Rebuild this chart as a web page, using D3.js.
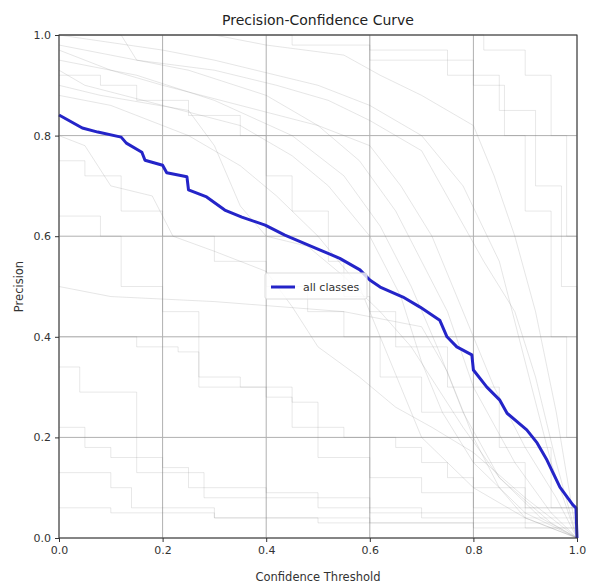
<!DOCTYPE html>
<html>
<head>
<meta charset="utf-8">
<script src="https://cdn.jsdelivr.net/npm/d3@7"></script>
<style>
  body { margin: 0; background: #fff; }
  text { font-family: "DejaVu Sans", sans-serif; }
</style>
</head>
<body>
<div id="chart"></div>
<script>
// Precision-Confidence curve

var xTicks = [0, 0.2, 0.4, 0.6, 0.8, 1.0];
var yTicks = [0, 0.2, 0.4, 0.6, 0.8, 1.0];

// all classes
var allConf = [0, 0.045, 0.075, 0.12, 0.13, 0.16, 0.166, 0.2, 0.208, 0.247, 0.25, 0.285, 0.32, 0.353, 0.398,
  0.436, 0.494, 0.542, 0.581, 0.6, 0.62, 0.664, 0.697, 0.735, 0.749, 0.768, 0.797, 0.8, 0.826, 0.851,
  0.865, 0.903, 0.923, 0.942, 0.954, 0.967, 0.992, 0.998, 1.0];
var allPrec = [0.841, 0.815, 0.807, 0.797, 0.785, 0.767, 0.751, 0.741, 0.726, 0.718, 0.692, 0.678, 0.652, 0.638, 0.622,
  0.602, 0.577, 0.556, 0.533, 0.513, 0.499, 0.479, 0.459, 0.433, 0.4, 0.38, 0.364, 0.334, 0.3, 0.274,
  0.248, 0.215, 0.189, 0.155, 0.129, 0.101, 0.066, 0.06, 0.0];

// per-class curves with stair steps, [confidence, precision]
var stepCurves = [
  [[0,1],[0.35,1],[0.45,0.98],[0.6,0.95],[0.75,0.92],[0.85,0.85],[0.92,0.7],[0.97,0.5],[1,0]],
  [[0,1],[0.5,1],[0.6,0.97],[0.75,0.95],[0.8,0.9],[0.86,0.8],[0.9,0.65],[0.95,0.4],[0.98,0.2],[1,0]],
  [[0,1],[0.7,1],[0.82,0.97],[0.9,0.92],[0.95,0.8],[0.98,0.6],[1,0]],
  [[0,0.34],[0.03,0.34],[0.04,0.29],[0.14,0.29],[0.15,0.13],[0.27,0.13],[0.28,0.08],[0.5,0.08],[0.6,0.05],[0.9,0.02],[1,0]],
  [[0,0.64],[0.08,0.6],[0.12,0.5],[0.2,0.45],[0.27,0.3],[0.4,0.28],[0.45,0.22],[0.5,0.16],[0.6,0.12],[0.7,0.09],[0.8,0.06],[1,0]],
  [[0,0.13],[0.09,0.13],[0.1,0.1],[0.14,0.06],[0.3,0.04],[0.6,0.03],[1,0]],
  [[0,0.4],[0.15,0.38],[0.23,0.37],[0.27,0.32],[0.35,0.3],[0.45,0.27],[0.5,0.22],[0.55,0.2],[0.65,0.18],[0.7,0.15],[0.75,0.12],[0.8,0.1],[0.9,0.05],[1,0]],
  [[0,0.22],[0.05,0.18],[0.1,0.16],[0.2,0.14],[0.25,0.1],[0.4,0.09],[0.5,0.06],[0.7,0.04],[1,0]],
  [[0,0.06],[0.1,0.05],[0.3,0.04],[0.5,0.03],[0.8,0.02],[1,0]],
  [[0,0.75],[0.05,0.72],[0.12,0.65],[0.2,0.6],[0.3,0.55],[0.4,0.5],[0.48,0.45],[0.55,0.4],[0.62,0.32],[0.7,0.25],[0.8,0.15],[0.9,0.06],[1,0]],
  [[0,0.92],[0.08,0.9],[0.15,0.87],[0.25,0.84],[0.35,0.8],[0.4,0.72],[0.45,0.65],[0.52,0.55],[0.55,0.48],[0.6,0.45],[0.65,0.38],[0.75,0.3],[0.85,0.18],[0.95,0.06],[1,0]]
];

// per-class curves that slope down through the middle band
var slopedCurves = [
  [[0,1],[0.2,0.97],[0.3,0.95],[0.5,0.9],[0.6,0.86],[0.7,0.8],[0.78,0.7],[0.85,0.55],[0.9,0.35],[0.95,0.15],[1,0]],
  [[0,0.98],[0.1,0.96],[0.25,0.93],[0.4,0.88],[0.5,0.82],[0.58,0.75],[0.65,0.65],[0.7,0.55],[0.75,0.45],[0.8,0.3],[0.88,0.15],[0.95,0.05],[1,0]],
  [[0,0.95],[0.15,0.92],[0.3,0.87],[0.45,0.8],[0.55,0.72],[0.62,0.62],[0.68,0.5],[0.73,0.38],[0.78,0.25],[0.85,0.12],[0.93,0.04],[1,0]],
  [[0,0.93],[0.05,0.9],[0.2,0.86],[0.35,0.82],[0.45,0.76],[0.52,0.7],[0.6,0.6],[0.66,0.48],[0.7,0.35],[0.74,0.25],[0.8,0.15],[0.9,0.05],[1,0]],
  [[0,0.88],[0.1,0.86],[0.25,0.8],[0.35,0.74],[0.42,0.68],[0.5,0.6],[0.58,0.5],[0.62,0.4],[0.66,0.3],[0.7,0.2],[0.8,0.1],[0.9,0.04],[1,0]],
  [[0,0.97],[0.1,0.93],[0.2,0.9],[0.35,0.86],[0.5,0.82],[0.6,0.78],[0.66,0.7],[0.72,0.6],[0.76,0.5],[0.8,0.4],[0.84,0.3],[0.9,0.18],[0.96,0.08],[1,0]],
  [[0,0.5],[0.1,0.48],[0.3,0.47],[0.55,0.45],[0.7,0.42],[0.75,0.33],[0.8,0.2],[0.85,0.1],[0.9,0.04],[1,0]],
  [[0,0.8],[0.05,0.78],[0.1,0.7],[0.18,0.68],[0.22,0.6],[0.3,0.57],[0.4,0.53],[0.45,0.46],[0.5,0.38],[0.58,0.32],[0.65,0.26],[0.72,0.22],[0.8,0.17],[0.9,0.08],[1,0]],
  [[0,1],[0.12,1],[0.15,0.95],[0.3,0.93],[0.42,0.9],[0.52,0.87],[0.6,0.83],[0.7,0.77],[0.76,0.66],[0.82,0.55],[0.88,0.45],[0.92,0.32],[0.96,0.15],[1,0]],
  [[0,0.9],[0.08,0.88],[0.25,0.85],[0.3,0.78],[0.35,0.66],[0.4,0.6],[0.48,0.58],[0.55,0.52],[0.62,0.45],[0.68,0.38],[0.73,0.3],[0.78,0.22],[0.85,0.12],[0.95,0.03],[1,0]],
  [[0,1],[0.3,1],[0.4,0.98],[0.55,0.96],[0.62,0.92],[0.7,0.88],[0.8,0.82],[0.84,0.72],[0.88,0.6],[0.92,0.45],[0.96,0.25],[1,0]]
];

var width = 590, height = 587,
    margin = {top: 35, right: 13, bottom: 49, left: 59},
    w = width - margin.left - margin.right,
    h = height - margin.top - margin.bottom;

var svg = d3.select("#chart").append("svg")
    .attr("width", width)
    .attr("height", height);

var g = svg.append("g")
    .attr("transform", "translate(" + margin.left + "," + margin.top + ")");

var x = d3.scaleLinear().domain([0, 1]).range([0, w]);
var y = d3.scaleLinear().domain([0, 1]).range([h, 0]);

// grid
g.append("g").selectAll("line").data(xTicks).enter().append("line")
    .attr("x1", function(d){ return x(d); }).attr("x2", function(d){ return x(d); })
    .attr("y1", 0).attr("y2", h)
    .style("stroke", "#b0b0b0").style("stroke-width", 1);
g.append("g").selectAll("line").data(yTicks).enter().append("line")
    .attr("y1", function(d){ return y(d); }).attr("y2", function(d){ return y(d); })
    .attr("x1", 0).attr("x2", w)
    .style("stroke", "#b0b0b0").style("stroke-width", 1);

// class curves
var stepLine = d3.line()
    .x(function(d){ return x(d[0]); })
    .y(function(d){ return y(d[1]); })
    .curve(d3.curveStepAfter);
var slopeLine = d3.line()
    .x(function(d){ return x(d[0]); })
    .y(function(d){ return y(d[1]); });

g.append("g").selectAll("path").data(stepCurves).enter().append("path")
    .attr("d", stepLine)
    .style("fill", "none")
    .style("stroke", "#808080")
    .style("stroke-width", 1)
    .style("stroke-opacity", 0.18);
g.append("g").selectAll("path").data(slopedCurves).enter().append("path")
    .attr("d", slopeLine)
    .style("fill", "none")
    .style("stroke", "#808080")
    .style("stroke-width", 1)
    .style("stroke-opacity", 0.2);

// all classes
var allData = allConf.map(function(c, i){ return [c, allPrec[i]]; });
var mainLine = d3.line()
    .x(function(d){ return x(d[0]); })
    .y(function(d){ return y(d[1]); });

g.append("path")
    .datum(allData)
    .attr("d", mainLine)
    .style("fill", "none")
    .style("stroke", "#2424c8")
    .style("stroke-width", 3)
    .style("stroke-linejoin", "round");

// axes
var xAxis = g.append("g")
    .attr("transform", "translate(0," + h + ")")
    .call(d3.axisBottom(x).tickValues(xTicks).tickFormat(d3.format(".1f")).tickSize(4).tickPadding(4));
var yAxis = g.append("g")
    .call(d3.axisLeft(y).tickValues(yTicks).tickFormat(d3.format(".1f")).tickSize(4).tickPadding(4));

[xAxis, yAxis].forEach(function(a){
  a.select(".domain").remove();
  a.selectAll("line").style("stroke", "#333");
  a.selectAll("text").style("font-size", "11px").style("fill", "#333");
});

// frame
g.append("rect")
    .attr("width", w).attr("height", h)
    .style("fill", "none").style("stroke", "#333").style("stroke-width", 1);

// title + labels
svg.append("text")
    .attr("x", margin.left + w / 2).attr("y", 25)
    .attr("text-anchor", "middle")
    .style("font-size", "14px").style("fill", "#222")
    .text("Precision-Confidence Curve");

svg.append("text")
    .attr("x", margin.left + w / 2).attr("y", 581)
    .attr("text-anchor", "middle")
    .style("font-size", "11.5px").style("fill", "#333")
    .text("Confidence Threshold");

svg.append("text")
    .attr("transform", "translate(23," + (margin.top + h / 2) + ") rotate(-90)")
    .attr("text-anchor", "middle")
    .style("font-size", "11.5px").style("fill", "#333")
    .text("Precision");

// legend
var lg = svg.append("g").attr("transform", "translate(265,273)");
lg.append("rect")
    .attr("width", 102).attr("height", 26).attr("rx", 2)
    .style("fill", "rgba(255,255,255,0.8)").style("stroke", "#ddd");
lg.append("line")
    .attr("x1", 6).attr("x2", 30).attr("y1", 14).attr("y2", 14)
    .style("stroke", "#2424c8").style("stroke-width", 3);
lg.append("text")
    .attr("x", 38).attr("y", 18)
    .style("font-size", "11px").style("fill", "#333")
    .text("all classes");
</script>
</body>
</html>
